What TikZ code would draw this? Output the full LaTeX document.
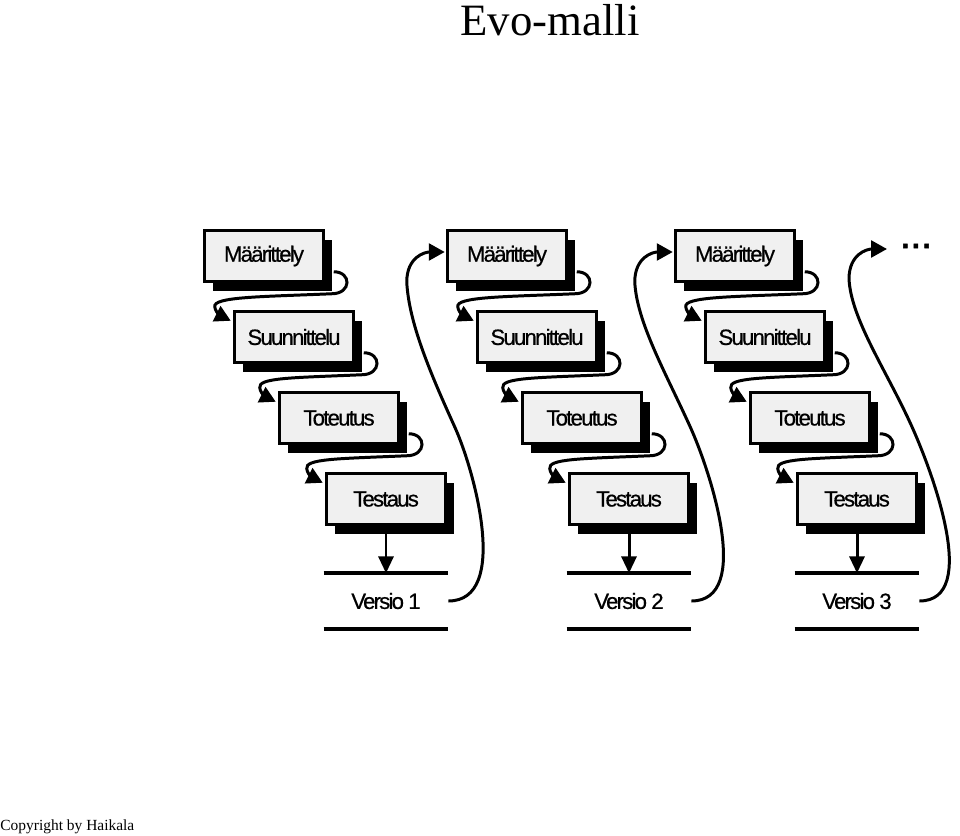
\documentclass[tikz,border=0pt]{standalone}
\usepackage{fontspec}
\setmainfont{Liberation Serif}
\newfontfamily\laatikkofont{Liberation Sans}[LetterSpace=-8.0, FakeBold=0.6]
\newfontfamily\pistefont{Liberation Sans Bold}[LetterSpace=10.0, FakeBold=2]
\usetikzlibrary{arrows.meta, calc, shadows}
\definecolor{laatikko}{HTML}{F0F0F0}

\begin{document}
\begin{tikzpicture}[
    x=0.02cm, y=-0.02cm,
    every node/.style={font=\laatikkofont\fontsize{12.6}{14}\selectfont},
    vaihe/.style={draw, line width=2pt, fill=laatikko, minimum width=2.38cm,
                  minimum height=1.02cm, inner sep=0pt,
                  general shadow={fill=black, shadow xshift=4.6pt, shadow yshift=-5.5pt}},
    versio/.style={minimum width=2.48cm, minimum height=1.1cm, inner sep=0pt},
    kierto/.style={line width=1.7pt, -{Triangle[length=9pt, width=9.5pt]}},
    paluu/.style={kierto},
    alas/.style={line width=1.7pt, -{Triangle[length=9.5pt, width=8.5pt]}},
    viiva/.style={line width=2pt},
]
\useasboundingbox (0,0) rectangle (960,835);

% --- Otsikko ja tekija ---
\node[font=\rmfamily\fontsize{25.5}{30}\selectfont, anchor=base]
    (otsikko) at (550,35) {Evo-malli};
\node[font=\rmfamily\fontsize{8.8}{10}\selectfont, anchor=base west, inner sep=0pt]
    (tekija) at (0,830) {Copyright by Haikala};

% --- Kolme kierrosta: vaiheet, versio ja kiertonuolet ---
\foreach \c/\x in {1/264, 2/507, 3/735} {
    \node[vaihe] (maar\c) at (\x, 256)     {Määrittely};
    \node[vaihe] (suun\c) at (\x+30, 337)  {Suunnittelu};
    \node[vaihe] (tot\c)  at (\x+75, 418)  {Toteutus};
    \node[vaihe] (test\c) at (\x+122, 499) {Testaus};
    \node[versio] (ver\c) at (\x+122, 601) {Versio \c};

    % vaiheesta seuraavaan
    \foreach \p/\q in {maar/suun, suun/tot, tot/test}
        \draw[kierto] ($(\p\c.south east)+(8.5,-11.5)$)
            .. controls +(18,0) and +(20,0) .. ($(\p\c.south east)+(6.5,10.5)$)
            .. controls +(-70,3) and +(-2,-10) .. ($(\q\c.north west)+(-18,-3)$)
            .. controls +(1,8) and +(-6,-3) .. ($(\q\c.north west)+(-2,11)$);

    % testauksesta versioksi
    \draw[alas] (test\c.south) -- (ver\c.north);
    \draw[viiva] (ver\c.north west) -- (ver\c.north east)
                 (ver\c.south west) -- (ver\c.south east);
}

% --- Jatko ---
\node[font=\pistefont\fontsize{16}{18}\selectfont, inner sep=0pt]
    (jatkuu) at (916,246) {...};

% --- Paluunuolet versiosta seuraavaan kierrokseen ---
\coordinate (kohde1) at ($(maar2.west)+(-1,-4)$);
\coordinate (kohde2) at ($(maar3.west)+(-1,-4)$);
\coordinate (kohde3) at (887,249);
\foreach \c in {1,2,3}
    \draw[paluu] (ver\c.east)
        .. controls +(62,0) and +(20,44) .. ($(ver\c.east)!0.5!(kohde\c)+(8,0)$)
        .. controls +(-25,-55) and +(2,40) .. ($(kohde\c)+(-38,30)$)
        .. controls +(0,-25) and +(-20,0) .. (kohde\c);
\end{tikzpicture}
\end{document}
